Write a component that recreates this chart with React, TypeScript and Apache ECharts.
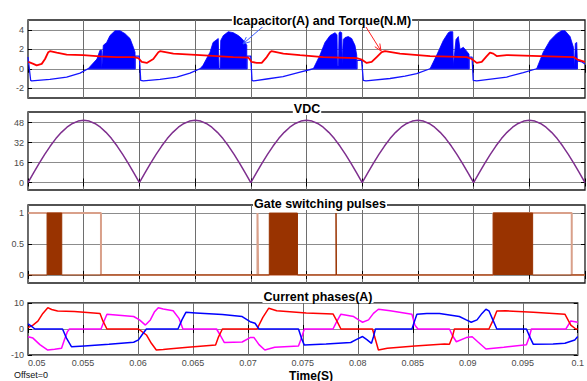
import React, { useEffect, useRef } from "react";
import * as echarts from "echarts";

// ---------- axes ----------
const X_MIN = 0.05;
const X_MAX = 0.1;
const X_STEP = 0.005;

const yRanges: [number, number][] = [[-3, 5], [-6, 56.5], [-0.13, 1.13], [-10, 10]];
const yTicks: number[][] = [[-2, 0, 2, 4], [0, 16, 32, 48], [0, 0.5, 1], [-10, 0, 10]];

const panelTitles = ["Icapacitor(A) and Torque(N.M)", "VDC", "Gate switching pulses", "Current phases(A)"];
const xAxisTitle = "Time(S)";
const offsetText = "Offset=0";

// ---------- panel 1: capacitor current & torque ----------
const icapBase: [number, number][] = [
  [0.05, 1.2], [0.05024, -1.2], [0.05033, -1.25], [0.05197, -1.1], [0.05347, -0.85], [0.05467, -0.45], [0.05539, 0],
  [0.05961, 0], [0.05961, 1.3], [0.05999, 1.3], [0.06012, -1.2],
  [0.06035, -1.25], [0.06185, -1.1], [0.06335, -0.85], [0.06454, -0.45], [0.06544, 0],
  [0.06966, 0], [0.06966, 1.3], [0.06999, 1.3], [0.07011, -1.2],
  [0.07023, -1.25], [0.07143, -1.05], [0.07289, -0.8], [0.07442, -0.35], [0.07561, 0],
  [0.07953, 0], [0.07953, 0.85], [0.07995, 0.85], [0.0801, -1.2],
  [0.08034, -1.25], [0.0825, -1.0], [0.08384, -0.75], [0.08489, -0.5], [0.08609, 0],
  [0.08959, 0], [0.08959, 1.2], [0.08986, 1.2], [0.08997, -1.2],
  [0.09028, -1.25], [0.09297, -0.85], [0.09446, -0.4], [0.09566, 0],
  [0.09931, 0], [0.09931, 0.8], [0.09973, 0.7], [0.1, 0.5],
];

const icapBursts: [number, number][][] = [
  [[0.05539, 0], [0.05619, 1.0], [0.05646, 1.9], [0.0566, 1.9], [0.05662, 0], [0.05667, 0], [0.05676, 2.4], [0.05706, 2.7],
   [0.05736, 3.4], [0.05781, 3.9], [0.05826, 3.9], [0.05871, 3.6], [0.05916, 3.1], [0.05946, 2.2], [0.05961, 1.7], [0.05961, 0]],
  [[0.06544, 0], [0.06571, 0.35], [0.06634, 1.7], [0.06661, 2.7], [0.06708, 3.1], [0.06715, 0], [0.06724, 0], [0.0673, 2.9],
   [0.06753, 3.4], [0.06798, 3.8], [0.06843, 3.7], [0.06888, 3.4], [0.06919, 3.1], [0.06948, 2.7], [0.06964, 2.4], [0.06964, 0]],
  [[0.07561, 0], [0.07621, 1.4], [0.07666, 2.7], [0.07711, 3.4], [0.07756, 3.7], [0.07774, 3.5], [0.07778, 0.3], [0.07787, 0.3],
   [0.07792, 3.7], [0.07801, 3.8], [0.07816, 3.7], [0.0782, 0.5], [0.07826, 0.5], [0.0783, 3.0], [0.07846, 3.2], [0.07875, 3.3],
   [0.07906, 3.1], [0.07935, 2.4], [0.07951, 1.4], [0.07951, 0]],
  [[0.08609, 0], [0.08669, 1.4], [0.08728, 2.9], [0.08773, 3.7], [0.08788, 3.8], [0.08813, 3.8], [0.08818, 0.3], [0.08824, 0.3],
   [0.08842, 3.0], [0.08863, 3.3], [0.08878, 2.0], [0.08908, 2.2], [0.08938, 1.8], [0.08959, 1.5], [0.08959, 0]],
  [[0.09566, 0], [0.09625, 1.7], [0.09686, 2.9], [0.09746, 3.6], [0.09791, 3.9], [0.09821, 3.9], [0.09866, 3.3], [0.09896, 2.2],
   [0.09905, 0], [0.09911, 0], [0.09913, 2.6], [0.09926, 2.7], [0.09931, 0.8], [0.09931, 0]],
];

const torque: [number, number][] = [
  [0.05003, 0.7], [0.05048, 0.5], [0.05078, 0.35], [0.05123, 0.5], [0.05153, 1.0], [0.05182, 1.7], [0.05197, 1.8],
  [0.05258, 1.65], [0.05347, 1.45], [0.05496, 1.4], [0.05646, 1.27], [0.05796, 1.2], [0.05945, 1.2], [0.0599, 1.1],
  [0.06021, 0.7], [0.06066, 0.6], [0.06125, 1.0], [0.0617, 1.7], [0.06185, 1.8], [0.06305, 1.55], [0.06544, 1.4],
  [0.06843, 1.2], [0.06978, 1.15], [0.07008, 0.7], [0.07053, 0.6], [0.07098, 0.6], [0.07143, 1.2], [0.07172, 1.7],
  [0.07185, 1.8], [0.07292, 1.55], [0.07442, 1.4], [0.07651, 1.2], [0.07951, 1.1], [0.07995, 0.95], [0.0804, 0.6],
  [0.08085, 0.7], [0.0813, 1.2], [0.08175, 1.7], [0.08205, 1.8], [0.08339, 1.55], [0.08609, 1.3], [0.08938, 1.2],
  [0.08983, 1.0], [0.09028, 0.6], [0.09073, 0.7], [0.09118, 1.3], [0.09147, 1.65], [0.09177, 1.55], [0.09207, 1.3],
  [0.09297, 1.4], [0.09596, 1.3], [0.09896, 1.2], [0.09941, 0.9], [0.1, 0.7],
];

// ---------- panel 2: rectified DC link voltage ----------
const vdcHump = [0, 7.7, 15.4, 22.6, 29.2, 35.2, 40.2, 44.3, 47.3, 49.2, 49.8, 49.2, 47.3, 44.3, 40.2, 35.2, 29.2, 22.6, 15.4, 7.7, 0];
const vdcHumpStarts = [0.05, 0.06, 0.07, 0.08, 0.09];
const vdcSampleStep = 0.0005;

// ---------- panel 3: gate pulses ----------
const gateLight: [number, number][] = [
  [0.05, 1], [0.05655, 1], [0.05655, 0], [0.0706, 0], [0.0706, 1], [0.07066, 1], [0.07066, 0],
  [0.09177, 0], [0.09177, 1], [0.09881, 1], [0.09881, 0], [0.1, 0],
];
const gateDark: [number, number][] = [
  [0.05, 0], [0.05171, 0], [0.05171, 1], [0.05303, 1], [0.05303, 0],
  [0.07166, 0], [0.07166, 1], [0.07419, 1], [0.07419, 0],
  [0.07765, 0], [0.07765, 1], [0.07769, 1], [0.07769, 0],
  [0.09177, 0], [0.09177, 1], [0.0953, 1], [0.0953, 0], [0.1, 0],
];

// ---------- panel 4: phase currents ----------
const phaseRed: [number, number][] = [
  [0.05, 0.5], [0.05045, 1.5], [0.0509, 3], [0.05135, 6], [0.0518, 8.2], [0.05215, 7.5], [0.05269, 6.9], [0.05422, 6.7],
  [0.05655, 6.0], [0.05682, 3], [0.05718, 0], [0.06005, 0], [0.06077, -2.3], [0.06122, -5.5], [0.06167, -8.1],
  [0.0623, -7.9], [0.06275, -7.7], [0.06454, -7.0], [0.06706, -6.2], [0.06733, -3], [0.06768, 0], [0.07083, 0],
  [0.07136, 4.5], [0.0719, 8.0], [0.07262, 7.0], [0.07531, 6.2], [0.07774, 5.8], [0.0781, 3], [0.07846, 0],
  [0.08133, 0], [0.08187, -8.1], [0.08268, -7.4], [0.08519, -6.5], [0.08788, -5.8], [0.08833, -5.9], [0.0886, -3],
  [0.08878, 0], [0.09192, 0], [0.09237, 4], [0.09264, 6.9], [0.09345, 7], [0.09596, 6.4], [0.09883, 5.7],
  [0.09937, 1.5], [0.09982, 0], [0.1, 0],
];
const phaseBlue: [number, number][] = [
  [0.05, 2.0], [0.05027, 1.2], [0.05063, 0], [0.05314, 0], [0.0535, -3.5], [0.05395, -6.8], [0.05512, -6.5],
  [0.05736, -5.9], [0.05961, -5.1], [0.06005, -4.2], [0.06041, -2], [0.06077, 0], [0.06364, 0], [0.064, 3.5],
  [0.06436, 6.4], [0.06526, 6.2], [0.06768, 5.6], [0.06948, 4.8], [0.0702, 2.8], [0.07065, 2.2], [0.07101, 0],
  [0.0746, 0], [0.07487, -3.5], [0.07513, -6.2], [0.07711, -5.8], [0.07935, -5.2], [0.07989, -4], [0.08043, -2.9],
  [0.08079, -4], [0.08124, -5.5], [0.08142, -3], [0.0816, 0], [0.08492, 0], [0.08519, 3.5], [0.08537, 5.7],
  [0.08627, 6.0], [0.08743, 6.0], [0.08923, 4.8], [0.08986, 3.5], [0.09031, 2.6], [0.09084, 3.5], [0.09129, 6],
  [0.09165, 7.6], [0.09192, 7], [0.09228, 3.5], [0.09264, 0], [0.09533, 0], [0.09569, -3.5], [0.09596, -5.9],
  [0.09776, -5.8], [0.09883, -5.5], [0.09973, -4.2], [0.1, -2.9],
];
const phaseMagenta: [number, number][] = [
  [0.05, -3.0], [0.05045, -3.5], [0.05108, -6], [0.0518, -8.1], [0.05242, -7.8], [0.05305, -7.4], [0.05332, -4],
  [0.05359, -1], [0.05377, 0], [0.05664, 0], [0.05691, 3], [0.05718, 5.7], [0.05826, 5.3], [0.05961, 4.8],
  [0.06014, 3.5], [0.06068, 1.5], [0.06113, 3.5], [0.06149, 6.5], [0.06185, 8.2], [0.0623, 7.7], [0.0632, 7.0],
  [0.06373, 4.1], [0.06409, 0], [0.06715, 0], [0.0675, -2.5], [0.06786, -5.2], [0.06948, -5.0], [0.0702, -3.3],
  [0.07056, -3.3], [0.07101, -6], [0.07154, -8.1], [0.07244, -7.0], [0.0746, -6.5], [0.07487, -3.5], [0.07513, 0],
  [0.07774, 0], [0.0781, 3], [0.07846, 5.7], [0.07962, 4.8], [0.08007, 3.5], [0.08043, 2.6], [0.08097, 3.5],
  [0.08142, 6], [0.08187, 7.6], [0.08294, 7.0], [0.08492, 5.7], [0.08519, 1.5], [0.08546, 0], [0.08833, 0],
  [0.0886, -2.5], [0.08896, -4.9], [0.08986, -3.3], [0.0904, -3], [0.09093, -5], [0.09165, -7.7], [0.09327, -7.0],
  [0.09533, -6.1], [0.0956, -3], [0.09578, 0], [0.09892, 0], [0.09937, 3.1], [0.1, 2.6],
];

// ---------- layout ----------
const FONT = '"Liberation Sans", Arial, sans-serif';
const gridBoxes = [
  { top: 20, height: 78 },
  { top: 112, height: 78 },
  { top: 205, height: 78 },
  { top: 303, height: 52 },
];
const titlePos = [
  [322, 20.5],
  [307, 108.5],
  [320, 203.5],
  [318, 296.5],
];

function fmtX(v: number) {
  return String(parseFloat(v.toFixed(4)));
}

export default function App() {
  const ref = useRef<HTMLDivElement>(null);
  useEffect(() => {
    if (!ref.current) return;
    const chart = echarts.init(ref.current, undefined, { renderer: "svg" });

    const tickStyle = { show: true, inside: true, length: 4, lineStyle: { color: "#000", width: 1 } };

    const grids = gridBoxes.map((g) => ({
      left: 28, width: 557, top: g.top, height: g.height,
      show: true, borderColor: "#1a1a1a", borderWidth: 1.3, backgroundColor: "#fff",
    }));

    const xAxes: any[] = [];
    gridBoxes.forEach((_, i) => {
      xAxes.push({
        type: "value", gridIndex: i, min: X_MIN, max: X_MAX, interval: X_STEP, position: "bottom",
        axisLine: { show: false }, axisTick: tickStyle,
        splitLine: { show: true, lineStyle: { color: "#6e6e6e", width: 1 } },
        axisLabel: {
          show: i === 3, formatter: fmtX, fontSize: 9, color: "#4a4a4a", fontFamily: FONT, margin: 3,
          alignMinLabel: "left",
        },
      });
    });
    gridBoxes.forEach((_, i) => {
      xAxes.push({
        type: "value", gridIndex: i, min: X_MIN, max: X_MAX, interval: X_STEP, position: "top",
        axisLine: { show: false }, axisTick: tickStyle, splitLine: { show: false }, axisLabel: { show: false },
      });
    });

    const yAxes: any[] = [];
    gridBoxes.forEach((_, i) => {
      yAxes.push({
        type: "value", gridIndex: i, min: yRanges[i][0], max: yRanges[i][1], position: "left",
        axisLine: { show: false },
        axisTick: { ...tickStyle, customValues: yTicks[i] },
        splitLine: { show: true, lineStyle: { color: "#8c8c8c", width: 1 } },
        axisLabel: { customValues: yTicks[i], fontSize: 9, color: "#4a4a4a", fontFamily: FONT, margin: 4 },
      });
    });
    gridBoxes.forEach((_, i) => {
      yAxes.push({
        type: "value", gridIndex: i, min: yRanges[i][0], max: yRanges[i][1], position: "right",
        axisLine: { show: false },
        axisTick: { ...tickStyle, customValues: yTicks[i] },
        splitLine: { show: false }, axisLabel: { show: false, customValues: yTicks[i] },
      });
    });

    const lineBase = { type: "line", symbol: "none", showSymbol: false, animation: false, silent: true };

    const vdcData: [number, number][] = vdcHumpStarts.flatMap((s) =>
      vdcHump.map((v, i) => [s + i * vdcSampleStep, v] as [number, number])
    );

    const series: any[] = [
      ...icapBursts.map((b) => ({
        ...lineBase, xAxisIndex: 0, yAxisIndex: 0, data: b, z: 2,
        lineStyle: { color: "#0000ff", width: 0.8 }, areaStyle: { color: "#0000ff", opacity: 1 },
      })),
      { ...lineBase, xAxisIndex: 0, yAxisIndex: 0, data: icapBase, z: 3, lineStyle: { color: "#1414ff", width: 1.3 } },
      { ...lineBase, xAxisIndex: 0, yAxisIndex: 0, data: torque, z: 4, lineStyle: { color: "#ff0000", width: 1.8 } },
      { ...lineBase, xAxisIndex: 1, yAxisIndex: 1, data: vdcData, z: 3, lineStyle: { color: "#7e2f8e", width: 1.5 } },
      { ...lineBase, xAxisIndex: 2, yAxisIndex: 2, data: gateLight, z: 3, lineStyle: { color: "#d9a08a", width: 2 } },
      {
        ...lineBase, xAxisIndex: 2, yAxisIndex: 2, data: gateDark, z: 4,
        lineStyle: { color: "#993300", width: 1 }, areaStyle: { color: "#993300", opacity: 1 },
      },
      { ...lineBase, xAxisIndex: 3, yAxisIndex: 3, data: phaseMagenta, z: 3, lineStyle: { color: "#ff00ff", width: 1.5 } },
      { ...lineBase, xAxisIndex: 3, yAxisIndex: 3, data: phaseRed, z: 4, lineStyle: { color: "#ff0000", width: 1.5 } },
      { ...lineBase, xAxisIndex: 3, yAxisIndex: 3, data: phaseBlue, z: 5, lineStyle: { color: "#0000ff", width: 1.5 } },
    ];

    const graphics: any[] = panelTitles.map((t, i) => ({
      type: "text", z: 100,
      style: {
        text: t, x: titlePos[i][0], y: titlePos[i][1], align: "center", verticalAlign: "middle",
        font: `bold 12.5px ${FONT}`, fill: "#000", backgroundColor: "#fff", padding: [0, 1],
      },
    }));
    graphics.push({
      type: "text", z: 100,
      style: { text: xAxisTitle, x: 311, y: 375.5, align: "center", verticalAlign: "middle", font: `bold 12px ${FONT}`, fill: "#000" },
    });
    graphics.push({
      type: "text", z: 100,
      style: { text: offsetText, x: 14, y: 375, align: "left", verticalAlign: "middle", font: `9px ${FONT}`, fill: "#111" },
    });
    // annotation arrows
    graphics.push({ type: "line", z: 99, shape: { x1: 267, y1: 23, x2: 244, y2: 43 }, style: { stroke: "#3a5bff", lineWidth: 1 } });
    graphics.push({ type: "polyline", z: 99, shape: { points: [[250.3, 41.7], [243, 44], [246.3, 37.1]] }, style: { stroke: "#3a5bff", lineWidth: 1, fill: null } });
    graphics.push({ type: "line", z: 99, shape: { x1: 366, y1: 27, x2: 381, y2: 51 }, style: { stroke: "#ff2020", lineWidth: 1 } });
    graphics.push({ type: "polyline", z: 99, shape: { points: [[379.8, 43.5], [381, 51], [374.8, 46.7]] }, style: { stroke: "#ff2020", lineWidth: 1, fill: null } });

    chart.setOption({
      animation: false,
      backgroundColor: "#fff",
      textStyle: { fontFamily: FONT },
      grid: grids,
      xAxis: xAxes,
      yAxis: yAxes,
      series,
      graphic: graphics,
    });
    return () => chart.dispose();
  }, []);
  return <div ref={ref} style={{ position: "absolute", left: 0, top: 0, width: 587, height: 381 }} />;
}
